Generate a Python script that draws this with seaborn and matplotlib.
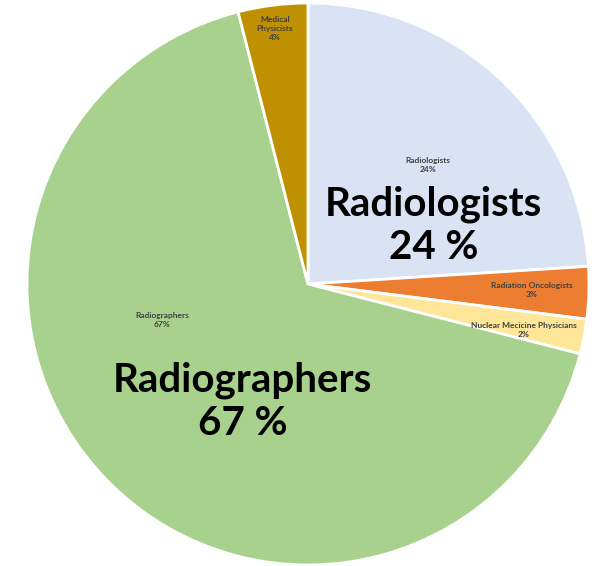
import matplotlib
matplotlib.use("Agg")
import matplotlib.pyplot as plt
import seaborn as sns

sns.set_theme(style="white")
plt.rcParams['font.family'] = ['Lato', 'DejaVu Sans']

categories = ["Radiologists", "Radiation Oncologists", "Nuclear Mecicine Physicians",
              "Radiographers", "Medical Physicists"]
values = [24, 3, 2, 67, 4]
colors = ["#DAE3F3", "#ED7D31", "#FFE699", "#A9D18E", "#BF9000"]
small_label_pos = [(0.427, 0.423), (0.797, -0.021), (0.769, -0.164), (-0.52, -0.128), (-0.117, 0.91)]
big_labels = {"Radiologists": (0.446, 0.208), "Radiographers": (-0.233, -0.42)}

fig = plt.figure(figsize=(6.03, 5.66), dpi=100)
ax = fig.add_axes([0, 0, 1, 1])
ax.pie(values, colors=colors, startangle=90, counterclock=False,
       wedgeprops=dict(edgecolor="white", linewidth=2))

for cat, v, (x, y) in zip(categories, values, small_label_pos):
    label = cat.replace(" ", "\n") if cat == "Medical Physicists" else cat
    ax.text(x, y, f"{label}\n{v}%", ha="center", va="center", fontsize=6,
            fontweight="bold", color="#404040", linespacing=1.3)

for cat, (x, y) in big_labels.items():
    v = values[categories.index(cat)]
    ax.text(x, y, f"{cat}\n{v} %", ha="center", va="center", fontsize=29,
            fontweight="bold", color="black", linespacing=1.2)

ax.set_aspect("auto")
ax.set_xlim(-1.096, 1.050)
ax.set_ylim(-1.0036, 1.0107)
ax.axis("off")
fig.savefig("out.png", dpi=100)
